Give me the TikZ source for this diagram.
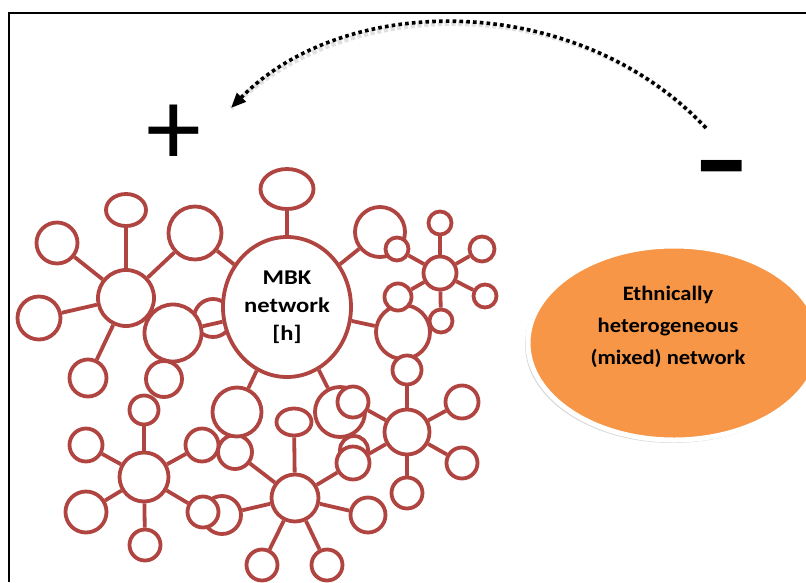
\documentclass[tikz,border=0pt]{standalone}
\usepackage{fontspec}
\setmainfont{Carlito}
\newfontfamily\widefont[FakeStretch=1.1]{Carlito}
\newfontfamily\widerfont[FakeStretch=1.17]{Carlito}
\usetikzlibrary{arrows.meta,shapes.geometric,shadows}
\definecolor{netred}{RGB}{176,68,64}
\definecolor{mixorange}{RGB}{247,150,70}
\begin{document}
\begin{tikzpicture}[x=1pt,y=-1pt,
  nd/.style={circle,draw=netred,line width=3.8pt,fill=white,inner sep=0pt,minimum size=2*#1},
  ov/.style={ellipse,draw=netred,line width=3.8pt,fill=white,inner sep=0pt},
  link/.style={draw=netred,line width=3.8pt},
  lbl/.style={font=\widerfont\bfseries\fontsize{21}{28}\selectfont,align=center,text=black},
  sign/.style={font=\fontsize{110}{110}\selectfont,inner sep=0pt}]
\useasboundingbox (0,0) rectangle (806,582);
\fill[white] (0,0) rectangle (806,582);
% frame
\draw[line width=2pt] (8.5,582) -- (8.5,12.5) -- (806,12.5);
% back circles
\node[nd=19] (Lh) at (213,318) {};
\node[nd=18] (L7) at (164,379) {};
\node[nd=19] (BL6) at (222,515) {};
\node[nd=17] (BC1) at (235,452) {};
\node[nd=14] (BC5b) at (354,450) {};
\node[nd=25] (U0) at (380,232) {};
\node[nd=27] (Rbig) at (403,332) {};
\node[nd=25] (Rb) at (340,412) {};
% main node
\node[ov,minimum width=128,minimum height=140,lbl] (mbk) at (287,307) {MBK\\network\\{[h]}};
% front circles
\node[nd=28] (hL) at (126,298) {};
\node[ov,minimum width=40,minimum height=32] (L1) at (126,210) {};
\node[nd=20.5] (L2) at (57,243) {};
\node[nd=21.5] (L3) at (39,318) {};
\node[nd=18.5] (L4) at (88,378) {};
\node[nd=26.5] (L5) at (195,233) {};
\node[nd=28.5] (L6) at (173,333) {};
\node[ov,minimum width=53,minimum height=40] (top) at (287,189) {};
\node[nd=14.5] (BL0) at (144,410) {};
\node[nd=24.5] (hBL) at (144,477) {};
\node[nd=16.5] (BL1) at (86,445) {};
\node[nd=20.5] (BL2) at (86,512) {};
\node[nd=15.5] (BL3) at (145,545) {};
\node[nd=16.5] (BL4) at (202,445) {};
\node[nd=15.5] (BL5) at (203,512) {};
\node[nd=24.5] (BCb) at (237,412) {};
\node[nd=23.5] (hBC) at (295,498) {};
\node[ov,minimum width=35,minimum height=27] (BC0) at (294,422) {};
\node[nd=15.5] (BC2) at (262,565) {};
\node[nd=15.5] (BC3) at (327,565) {};
\node[nd=17.5] (BC4) at (368,515) {};
\node[nd=16.5] (BC5) at (353,463) {};
\node[nd=15.5] (R1) at (353,402) {};
\node[nd=22.5] (hR) at (407,432) {};
\node[nd=14.5] (R0) at (407,370) {};
\node[nd=16.5] (R2) at (462,402) {};
\node[nd=15.5] (R3) at (462,463) {};
\node[nd=15.5] (R4) at (407,493) {};
\node[nd=16.5] (hUR) at (440,273) {};
\node[nd=11.5] (U1) at (440,223) {};
\node[nd=12.5] (U2) at (482,249) {};
\node[nd=11.5] (U3) at (485,296) {};
\node[nd=11.5] (U4) at (441,321) {};
\node[nd=13.5] (U5) at (398,297) {};
\node[nd=11.5] (U6) at (397,249) {};
% links
\draw[link] (top) -- (mbk);
\draw[link] (L5) -- (mbk);
\draw[link] (L6) -- (mbk);
\draw[link] (BCb) -- (mbk);
\draw[link] (Rb) -- (mbk);
\draw[link] (Rbig) -- (mbk);
\draw[link] (U0) -- (mbk);
\foreach \n in {L1,L2,L3,L4,L5} \draw[link] (hL) -- (\n);
\foreach \n in {BL0,BL1,BL2,BL3,BL4,BL5} \draw[link] (hBL) -- (\n);
\foreach \n in {BC0,BC1,BL6,BC2,BC3,BC4,BC5} \draw[link] (hBC) -- (\n);
\foreach \n in {R0,R1,BC5,R2,R3,R4} \draw[link] (hR) -- (\n);
\foreach \n in {U1,U2,U3,U4,U5,U6} \draw[link] (hUR) -- (\n);
% mixed network
\node[ellipse,fill=mixorange,draw=white,line width=5pt,minimum width=292,minimum height=194,
  drop shadow={opacity=0.3,shadow xshift=-1.5pt,shadow yshift=-2pt,shadow scale=1.01}] (mix) at (674,343) {};
\node[align=center,font=\widefont\bfseries\fontsize{20.5}{32}\selectfont] (mixtext) at (668,327) {Ethnically\\heterogeneous\\(mixed) network};
% signs
\node[sign] (plus) at (174,135) {+};
\node[sign] (minus) at (722,179) {\scalebox{1.5}[1]{\bfseries -}};
% dotted arrow
\coordinate (arcS) at (706,128);
\coordinate (arcE) at (231,108);
\draw[black!12,line width=5pt,dash pattern=on 4.2pt off 2.6pt,shift={(0.4,1.2)}]
  (arcS) .. controls (576,-10) and (344,-8) .. (arcE);
\draw[line width=3.6pt,dash pattern=on 3.6pt off 3.2pt,-{Triangle[length=15pt,width=12pt]}]
  (arcS) .. controls (576,-10) and (344,-8) .. (arcE);
\end{tikzpicture}
\end{document}
